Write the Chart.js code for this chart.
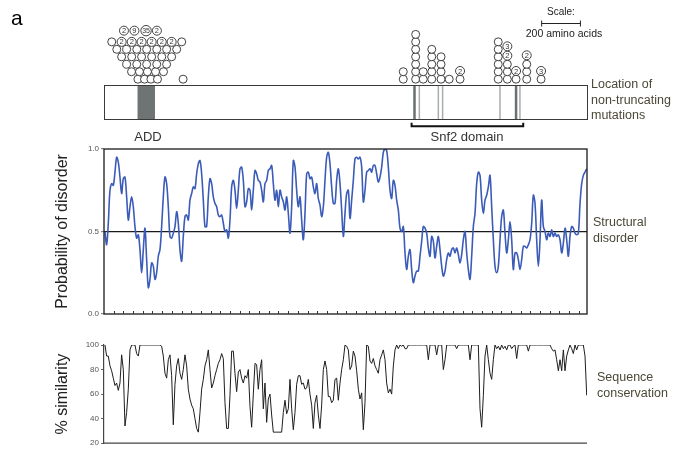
<!DOCTYPE html>
<html>
<head>
<meta charset="utf-8">
<script src="https://cdn.jsdelivr.net/npm/chart.js@4.4.1/dist/chart.umd.min.js"></script>
<style>
  body { margin: 0; background: #fff; font-family: 'Liberation Sans', Arial, sans-serif; }
  #wrap { position: relative; width: 678px; height: 450px; overflow: hidden; }
  canvas { position: absolute; left: 0; }
  .lbl { position: absolute; white-space: nowrap; }
  .side { color: #4b4837; font-size: 12.5px; line-height: 15.7px; }
  .mid { transform: translateX(-50%); text-align: center; }
</style>
</head>
<body>
<div id="wrap">
  <canvas id="mutChart" width="678" height="145" style="top:0"></canvas>
  <canvas id="disorderChart" width="678" height="185" style="top:140px"></canvas>
  <canvas id="simChart" width="678" height="120" style="top:330px"></canvas>

  <div class="lbl" style="left:11px;top:6px;font-size:21px;">a</div>
  <div class="lbl mid" style="left:148px;top:129px;font-size:13px;line-height:16px;color:#333;">ADD</div>
  <div class="lbl mid" style="left:467px;top:129px;font-size:13px;line-height:16px;color:#333;">Snf2 domain</div>
  <div class="lbl mid" style="left:561px;top:5px;font-size:10px;line-height:13px;color:#222;">Scale:</div>
  <div class="lbl mid" style="left:564px;top:26px;font-size:10.5px;line-height:14px;color:#222;">200 amino acids</div>
  <div class="lbl side" style="left:591px;top:77px;">Location of<br>non-truncating<br>mutations</div>
  <div class="lbl side" style="left:593px;top:215px;">Structural<br>disorder</div>
  <div class="lbl side" style="left:597px;top:370px;">Sequence<br>conservation</div>
</div>

<script>
// protein (residues)
const proteinLength = 2492;
const addDomain = [173, 263];
const snf2Domain = [1587, 2163];
const featureLines = [1602, 1627, 1725, 1747, 2043, 2126, 2146];
const featureDark = [true, false, false, false, false, true, false];
const scaleBarStart = 2258;
const scaleBarLength = 200;

// mutation circles: residue, stack level, number shown inside
const circleRes = [
  175, 209, 242, 276,
  142, 183, 224, 266, 307,
  117, 169, 220, 272, 323,
  91, 143, 194, 246, 298, 349,
  66, 117, 169, 220, 272, 323, 375,
  40, 91, 143, 194, 246, 298, 349, 401,
  103, 157, 217, 273,
  408,
  1544, 1544,
  1608, 1608, 1608, 1608, 1608, 1608, 1608,
  1647, 1647,
  1691, 1691, 1691, 1691, 1691,
  1739, 1739, 1739, 1739,
  1781,
  1837, 1837,
  2034, 2034, 2034, 2034, 2034, 2034,
  2081, 2081, 2081, 2081, 2081,
  2126, 2126,
  2181, 2181, 2181, 2181,
  2255, 2255
];
const circleLevel = [
  0, 0, 0, 0,
  1, 1, 1, 1, 1,
  2, 2, 2, 2, 2,
  3, 3, 3, 3, 3, 3,
  4, 4, 4, 4, 4, 4, 4,
  5, 5, 5, 5, 5, 5, 5, 5,
  6.5, 6.5, 6.5, 6.5,
  0,
  0, 1,
  0, 1, 2, 3, 4, 5, 6,
  0, 1,
  0, 1, 2, 3, 4,
  0, 1, 2, 3,
  0,
  0, 1.1,
  0, 1, 2, 3, 4, 5,
  0, 1, 2, 3.15, 4.4,
  0, 1.1,
  0, 1, 2, 3.2,
  0, 1.1
];
const circleLabel = [
  '', '', '', '',
  '', '', '', '', '',
  '', '', '', '', '',
  '', '', '', '', '', '',
  '', '', '', '', '', '', '',
  '', '2', '2', '2', '2', '2', '2', '',
  '2', '9', '35', '2',
  '',
  '', '',
  '', '', '', '', '', '', '',
  '', '',
  '', '', '', '', '',
  '', '', '', '',
  '',
  '', '2',
  '', '', '', '', '', '',
  '', '', '', '2', '3',
  '', '2',
  '', '', '', '2',
  '', '3'
];

// profiles sampled every sampleStep residues from sampleStart
const sampleStart = 5;
const sampleStep = 8.6;

const disorderValues = [
  0.50,
  0.42, 0.55, 0.75, 0.79, 0.78, 0.86, 0.95, 0.92, 0.83, 0.73,
  0.82, 0.83, 0.71, 0.57, 0.65, 0.71, 0.65, 0.53, 0.46, 0.48,
  0.39, 0.25, 0.39, 0.52, 0.33, 0.16, 0.21, 0.31, 0.29, 0.21,
  0.25, 0.35, 0.39, 0.53, 0.71, 0.83, 0.79, 0.65, 0.47, 0.46,
  0.49, 0.53, 0.62, 0.55, 0.39, 0.32, 0.47, 0.59, 0.60, 0.57,
  0.69, 0.73, 0.77, 0.76, 0.85, 0.91, 0.93, 0.85, 0.69, 0.53,
  0.53, 0.71, 0.82, 0.79, 0.71, 0.67, 0.65, 0.60, 0.59, 0.60,
  0.55, 0.50, 0.51, 0.46, 0.57, 0.77, 0.81, 0.75, 0.64, 0.75,
  0.88, 0.89, 0.81, 0.65, 0.68, 0.76, 0.75, 0.63, 0.75, 0.87,
  0.85, 0.81, 0.80, 0.75, 0.68, 0.79, 0.81, 0.87, 0.88, 0.90,
  0.79, 0.69, 0.75, 0.65, 0.75, 0.71, 0.68, 0.63, 0.71, 0.61,
  0.49, 0.65, 0.93, 0.89, 0.75, 0.65, 0.71, 0.57, 0.45, 0.61,
  0.85, 0.86, 0.82, 0.83, 0.77, 0.73, 0.79, 0.70, 0.66, 0.59,
  0.65, 0.81, 0.95, 0.98, 0.91, 0.77, 0.67, 0.67, 0.81, 0.88,
  0.79, 0.63, 0.47, 0.61, 0.73, 0.75, 0.58, 0.69, 0.81, 0.94,
  0.95, 0.94, 0.95, 0.89, 0.68, 0.75, 0.86, 0.87, 0.88, 0.86,
  0.90, 0.90, 0.85, 0.80, 0.83, 0.89, 0.98, 1.00, 0.99, 0.89,
  0.75, 0.70, 0.81, 0.78, 0.69, 0.63, 0.52, 0.50, 0.53, 0.37,
  0.27, 0.35, 0.39, 0.27, 0.19, 0.23, 0.26, 0.26, 0.35, 0.44,
  0.53, 0.52, 0.49, 0.40, 0.35, 0.47, 0.44, 0.34, 0.41, 0.47,
  0.39, 0.29, 0.23, 0.26, 0.33, 0.37, 0.35, 0.39, 0.40, 0.37,
  0.40, 0.36, 0.31, 0.36, 0.45, 0.50, 0.37, 0.27, 0.21, 0.35,
  0.53, 0.61, 0.79, 0.86, 0.84, 0.69, 0.61, 0.69, 0.72, 0.77,
  0.84, 0.65, 0.45, 0.29, 0.25, 0.29, 0.45, 0.59, 0.63, 0.49,
  0.37, 0.45, 0.56, 0.45, 0.27, 0.37, 0.37, 0.33, 0.27, 0.33,
  0.41, 0.41, 0.40, 0.42, 0.45, 0.55, 0.72, 0.67, 0.45, 0.29,
  0.45, 0.69, 0.53, 0.50, 0.45, 0.49, 0.47, 0.51, 0.47, 0.49,
  0.47, 0.48, 0.45, 0.37, 0.43, 0.52, 0.45, 0.35, 0.47, 0.53,
  0.52, 0.49, 0.48, 0.49, 0.67, 0.79, 0.84, 0.86, 0.88
];

const similarityValues = [
  100, 91, 91, 83, 79, 73, 67, 69, 63, 69,
  92, 80, 34, 45, 64, 96, 100, 100, 100, 93,
  91, 100, 100, 100, 100, 100, 100, 100, 100, 100,
  100, 100, 100, 100, 99, 91, 77, 73, 88, 92,
  75, 35, 68, 83, 89, 77, 72, 80, 92, 83,
  64, 56, 51, 48, 40, 32, 29, 45, 64, 72,
  83, 88, 96, 80, 65, 69, 75, 80, 85, 88,
  93, 89, 53, 32, 32, 59, 95, 95, 77, 62,
  78, 80, 73, 69, 75, 73, 80, 50, 33, 60,
  85, 84, 64, 80, 88, 48, 69, 37, 56, 60,
  43, 29, 29, 29, 29, 29, 29, 45, 55, 44,
  48, 72, 48, 31, 45, 68, 75, 75, 68, 69,
  64, 65, 72, 60, 51, 32, 53, 59, 43, 32,
  51, 80, 87, 80, 58, 58, 53, 55, 72, 73,
  55,
  69, 80, 88, 100, 99, 96, 80, 83, 95, 91,
  79, 64, 56, 61, 31, 53, 100, 99, 87, 85,
  89, 83, 80, 77, 88, 92, 96, 88, 69, 61,
  64, 60, 83, 96, 100, 97, 100, 99, 100, 97,
  97, 100, 100, 100, 100, 100, 100, 100, 100, 100,
  100, 100, 100, 88, 100, 100, 100, 100, 92, 100,
  100, 100, 80, 88, 100, 100, 100, 100, 100, 100,
  97, 100, 100, 100, 100, 100, 100, 100, 88, 100,
  100, 100, 100, 100, 48, 33, 59, 91, 100, 88,
  77, 72, 88, 100, 97, 99, 96, 100, 97, 99,
  96, 100, 100, 97, 99, 100, 89, 100, 100, 100,
  100, 100, 100, 95, 100, 100, 100, 100, 100, 100,
  100, 100, 100, 100, 100, 100, 100, 97, 95, 96,
  88, 79, 88, 79, 96, 79, 91, 96, 100, 97,
  93, 100, 96, 100, 100, 100, 100, 91, 59
];

const disorderTicks = [0, 0.5, 1];
const similarityTicks = [20, 40, 60, 80, 100];

const FONT = "'Liberation Sans', Arial, sans-serif";
const toXY = vals => vals.map((v, i) => ({ x: sampleStart + i * sampleStep, y: v }));

// ---------- mutation map ----------
const proteinPlugin = {
  id: 'protein',
  beforeDatasetsDraw(chart) {
    const { ctx, scales: { x, y } } = chart;
    const top = Math.round(y.getPixelForValue(-0.73)) + 0.5;
    const bottom = Math.round(y.getPixelForValue(-5.4)) + 0.5;
    const px = r => x.getPixelForValue(r);
    ctx.save();
    ctx.fillStyle = '#6e7374';
    ctx.fillRect(px(addDomain[0]), top, px(addDomain[1]) - px(addDomain[0]), bottom - top);
    featureLines.forEach((r, i) => {
      ctx.strokeStyle = featureDark[i] ? '#6a6f70' : '#a9adae';
      ctx.lineWidth = featureDark[i] ? 2.5 : 1.5;
      ctx.beginPath();
      ctx.moveTo(px(r), top);
      ctx.lineTo(px(r), bottom);
      ctx.stroke();
    });
    ctx.strokeStyle = '#3a3a3a';
    ctx.lineWidth = 1;
    ctx.strokeRect(Math.round(px(0)) + 0.5, top, px(proteinLength) - px(0), bottom - top);

    // Snf2 bracket
    const by = y.getPixelForValue(-6.3), bt = y.getPixelForValue(-5.85);
    ctx.strokeStyle = '#111';
    ctx.lineWidth = 2;
    ctx.beginPath();
    ctx.moveTo(px(snf2Domain[0]), bt);
    ctx.lineTo(px(snf2Domain[0]), by);
    ctx.lineTo(px(snf2Domain[1]), by);
    ctx.lineTo(px(snf2Domain[1]), bt);
    ctx.stroke();

    // scale bar
    const sy = Math.round(y.getPixelForValue(7.57)) + 0.5;
    ctx.strokeStyle = '#222';
    ctx.lineWidth = 1;
    ctx.beginPath();
    ctx.moveTo(px(scaleBarStart), sy);
    ctx.lineTo(px(scaleBarStart + scaleBarLength), sy);
    ctx.moveTo(px(scaleBarStart), sy - 3);
    ctx.lineTo(px(scaleBarStart), sy + 3);
    ctx.moveTo(px(scaleBarStart + scaleBarLength), sy - 3);
    ctx.lineTo(px(scaleBarStart + scaleBarLength), sy + 3);
    ctx.stroke();
    ctx.restore();
  },
  afterDatasetsDraw(chart) {
    const { ctx } = chart;
    const meta = chart.getDatasetMeta(0);
    ctx.save();
    ctx.fillStyle = '#333';
    ctx.textAlign = 'center';
    ctx.textBaseline = 'middle';
    meta.data.forEach((pt, i) => {
      const t = circleLabel[i];
      if (!t) return;
      ctx.font = (t.length > 1 ? '7px ' : '7.5px ') + FONT;
      ctx.fillText(t, pt.x, pt.y + 0.5);
    });
    ctx.restore();
  }
};

new Chart(document.getElementById('mutChart'), {
  type: 'scatter',
  data: {
    datasets: [{
      data: circleRes.map((r, i) => ({ x: r, y: circleLevel[i] })),
      pointRadius: ctx => circleLabel[ctx.dataIndex] === '35' ? 5.2 : (circleLabel[ctx.dataIndex] ? 4.5 : 4),
      pointBackgroundColor: '#fff',
      pointBorderColor: '#2e2e2e',
      pointBorderWidth: 0.9
    }]
  },
  options: {
    responsive: false,
    animation: false,
    layout: { padding: { left: 104, right: 91, top: 12, bottom: 5.5 } },
    plugins: { legend: { display: false }, tooltip: { enabled: false } },
    scales: {
      x: { type: 'linear', min: 0, max: proteinLength, display: false },
      y: { type: 'linear', min: -8, max: 9, display: false }
    }
  },
  plugins: [proteinPlugin]
});

// ---------- shared helpers for the two profile panels ----------
const fixedAxisWidth = axis => { axis.width = 104; };

const framePlugin = {
  id: 'frame',
  afterDraw(chart) {
    const { ctx, chartArea: a, scales: { x } } = chart;
    ctx.save();
    ctx.strokeStyle = '#1a1a1a';
    ctx.lineWidth = 1.3;
    ctx.strokeRect(a.left, a.top, a.right - a.left, a.bottom - a.top);
    ctx.lineWidth = 1;
    ctx.strokeStyle = '#333';
    ctx.beginPath();
    for (let r = 50; r < proteinLength; r += 50) {
      const xp = Math.round(x.getPixelForValue(r)) + 0.5;
      ctx.moveTo(xp, a.bottom);
      ctx.lineTo(xp, a.bottom - 3);
    }
    ctx.stroke();
    ctx.restore();
  }
};

const bottomLinePlugin = {
  id: 'bottomLine',
  afterDraw(chart) {
    const { ctx, chartArea: a } = chart;
    ctx.save();
    ctx.strokeStyle = '#444';
    ctx.lineWidth = 1.2;
    ctx.beginPath();
    ctx.moveTo(a.left, a.bottom);
    ctx.lineTo(a.right, a.bottom);
    ctx.stroke();
    ctx.restore();
  }
};

// ---------- structural disorder ----------
new Chart(document.getElementById('disorderChart'), {
  type: 'line',
  data: {
    datasets: [{
      data: toXY(disorderValues),
      borderColor: '#3b5bb8',
      borderWidth: 1.6,
      pointRadius: 0,
      tension: 0.35
    }]
  },
  options: {
    responsive: false,
    animation: false,
    layout: { padding: { left: 0, right: 91, top: 9, bottom: 11 } },
    plugins: { legend: { display: false }, tooltip: { enabled: false } },
    scales: {
      x: { type: 'linear', min: 0, max: proteinLength, display: false },
      y: {
        min: 0, max: 1,
        afterFit: fixedAxisWidth,
        afterBuildTicks: axis => { axis.ticks = disorderTicks.map(v => ({ value: v })); },
        ticks: {
          callback: v => v.toFixed(1),
          font: { family: FONT, size: 8 },
          color: '#555',
          padding: 2
        },
        grid: {
          color: c => c.tick && c.tick.value === 0.5 ? '#1a1a1a' : 'rgba(0,0,0,0)',
          lineWidth: 1.2,
          tickColor: '#888',
          tickLength: 3
        },
        border: { display: false },
        title: {
          display: true,
          text: 'Probability of disorder',
          font: { family: FONT, size: 16 },
          color: '#222',
          padding: { top: 53, bottom: 0 }
        }
      }
    }
  },
  plugins: [framePlugin]
});

// ---------- sequence conservation ----------
new Chart(document.getElementById('simChart'), {
  type: 'line',
  data: {
    datasets: [{
      data: toXY(similarityValues),
      borderColor: '#1e1e1e',
      borderWidth: 1,
      pointRadius: 0,
      tension: 0
    }]
  },
  options: {
    responsive: false,
    animation: false,
    layout: { padding: { left: 0, right: 91, top: 15, bottom: 5 } },
    plugins: { legend: { display: false }, tooltip: { enabled: false } },
    scales: {
      x: { type: 'linear', min: 0, max: proteinLength, display: false },
      y: {
        min: 20, max: 100,
        afterFit: fixedAxisWidth,
        afterBuildTicks: axis => { axis.ticks = similarityTicks.map(v => ({ value: v })); },
        ticks: {
          font: { family: FONT, size: 8 },
          color: '#555',
          padding: 2
        },
        grid: { drawOnChartArea: false, tickColor: '#666', tickLength: 3 },
        border: { display: true, color: '#444', width: 1.2 },
        title: {
          display: true,
          text: '% similarity',
          font: { family: FONT, size: 16 },
          color: '#222',
          padding: { top: 53, bottom: 0 }
        }
      }
    }
  },
  plugins: [bottomLinePlugin]
});
</script>
</body>
</html>
